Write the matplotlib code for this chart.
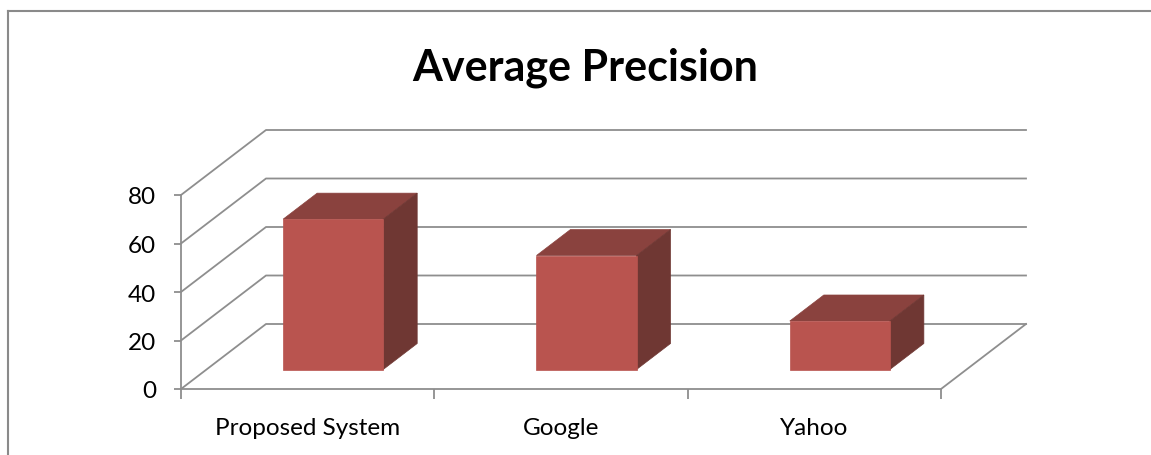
import numpy as np
import matplotlib.pyplot as plt
from matplotlib.patches import Polygon
from matplotlib.lines import Line2D

categories = ["Proposed System", "Google", "Yahoo"]
values = [62, 47, 20]
y_ticks = [0, 20, 40, 60, 80]

plt.rcParams['font.family'] = ['Lato', 'DejaVu Sans']

W, H = 1151, 456
fig = plt.figure(figsize=(W / 100, H / 100), dpi=100)
# front plane of the 3d box
ax = fig.add_axes([181 / W, 66 / H, 760 / W, 194 / H])
ax.set_xlim(0, 3)
ax.set_ylim(0, 80)

# depth offset (in data units) of the back wall
DX = 85 / (760 / 3)
DY = 65 / (194 / 80)

def proj(x, v, d):
    return (x + d * DX, v + d * DY)

grid_col = "#8e8e8e"
lw = 1.3

# walls / gridlines
for t in y_ticks:
    p0 = (0, t)
    p1 = proj(0, t, 1)
    p2 = proj(3, t, 1)
    ax.add_line(Line2D([p0[0], p1[0], p2[0]], [p0[1], p1[1], p2[1]],
                       color=grid_col, lw=lw, clip_on=False, zorder=1))
# floor right edge
p1 = proj(3, 0, 1)
ax.add_line(Line2D([3, p1[0]], [0, p1[1]], color=grid_col, lw=lw, clip_on=False, zorder=1))

# bars
front_col = "#b9544f"
top_col = "#8a423e"
side_col = "#6f3733"
hw = 0.1975
d0, d1 = 0.3, 0.7
for i, v in enumerate(values):
    x0, x1 = i + 0.5 - hw, i + 0.5 + hw
    top = [proj(x0, v, d0), proj(x1, v, d0), proj(x1, v, d1), proj(x0, v, d1)]
    side = [proj(x1, 0, d0), proj(x1, 0, d1), proj(x1, v, d1), proj(x1, v, d0)]
    front = [proj(x0, 0, d0), proj(x1, 0, d0), proj(x1, v, d0), proj(x0, v, d0)]
    ax.add_patch(Polygon(top, closed=True, fc=top_col, ec=top_col, lw=0.5, clip_on=False, zorder=3))
    ax.add_patch(Polygon(side, closed=True, fc=side_col, ec=side_col, lw=0.5, clip_on=False, zorder=3))
    ax.add_patch(Polygon(front, closed=True, fc=front_col, ec=front_col, lw=0.5, clip_on=False, zorder=4))

# axes
for s in ["top", "right"]:
    ax.spines[s].set_visible(False)
for s in ["left", "bottom"]:
    ax.spines[s].set_color(grid_col)
    ax.spines[s].set_linewidth(lw)
ax.set_yticks(y_ticks)
ax.tick_params(axis="y", direction="out", length=5, width=lw, color=grid_col,
               pad=13, labelsize=17.5)
ax.set_xticks([0, 1, 2, 3])
ax.set_xticklabels([])
ax.set_xticks([0.5, 1.5, 2.5], minor=True)
ax.set_xticklabels(categories, minor=True)
ax.tick_params(axis="x", which="major", direction="out", length=7, width=lw, color=grid_col)
ax.tick_params(axis="x", which="minor", length=0, pad=20, labelsize=17.5)
ax.patch.set_visible(False)

fig.text(585 / W, 1 - 68 / H, "Average Precision", ha="center", va="center",
         fontsize=31, fontweight="bold")

# chart border
fig.add_artist(Line2D([8 / W, 8 / W], [0, 1 - 12 / H], color="#8a8a8a", lw=1.5))
fig.add_artist(Line2D([8 / W, 1], [1 - 12 / H, 1 - 12 / H], color="#8a8a8a", lw=1.5))

fig.savefig("out.png", dpi=100)
